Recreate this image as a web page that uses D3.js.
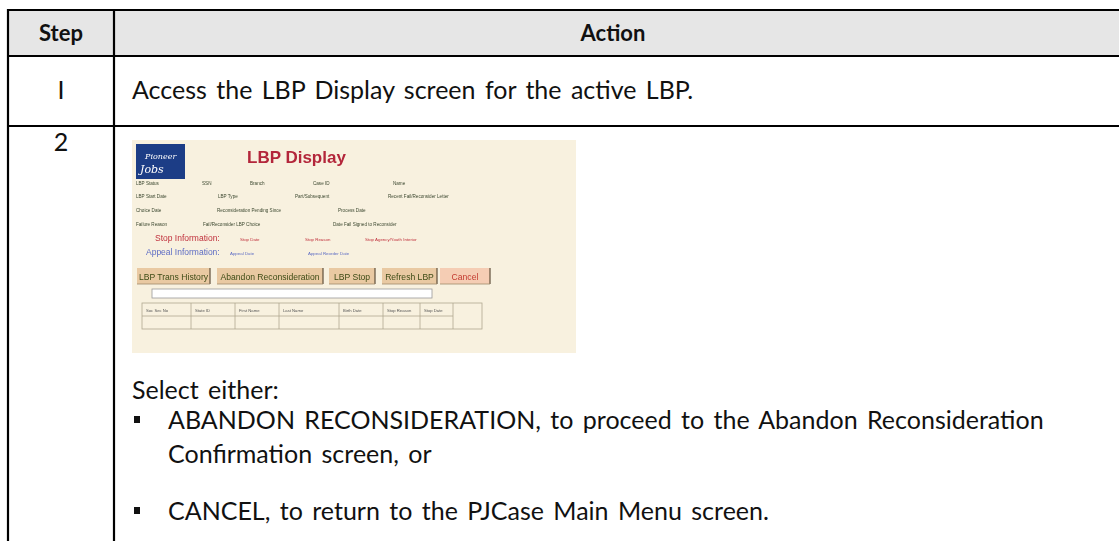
<!DOCTYPE html>
<html><head><meta charset="utf-8">
<script src="https://cdn.jsdelivr.net/npm/d3@7"></script>
<style>
html,body{margin:0;padding:0;background:#fff;}
svg{display:block;}
</style></head>
<body>
<script>
// ---------- data ----------
const headers = ["Step", "Action"];
const stepLabels = ["I", "2"];
const row1Text = "Access the LBP Display screen for the active LBP.";
const selectText = "Select either:";
const bulletLines = [
  ["ABANDON RECONSIDERATION, to proceed to the Abandon Reconsideration", "Confirmation screen, or"],
  ["CANCEL, to return to the PJCase Main Menu screen."]
];
// screenshot mock content
const screenTitle = "LBP Display";
const fieldRows = [
  ["LBP Status", "SSN", "Branch", "Case ID", "Name"],
  ["LBP Start Date", "LBP Type", "Part/Subsequent", "Recent Fail/Reconsider Letter"],
  ["Choice Date", "Reconsideration Pending Since", "Process Date"],
  ["Failure Reason", "Fail/Reconsider LBP Choice", "Date Fail Signed to Reconsider"]
];
const stopLabel = "Stop Information:";
const stopFields = ["Stop Date", "Stop Reason", "Stop Agency/Youth Interior"];
const appealLabel = "Appeal Information:";
const appealFields = ["Appeal Date", "Appeal Reorder Date"];
const buttons = ["LBP Trans History", "Abandon Reconsideration", "LBP Stop", "Refresh LBP", "Cancel"];
const gridCols = ["Soc Sec No", "State ID", "First Name", "Last Name", "Birth Date", "Stop Reason", "Stop Date"];

// ---------- layout ----------
const W = 1119, H = 541;
const FONT = "Lato, 'Open Sans', sans-serif";
const BODY = 25;
const svg = d3.select("body").append("svg").attr("width", W).attr("height", H);

const colEdges = [8, 114, 1121];
const rowEdges = [10, 56, 126, 600];

svg.append("rect").attr("x", colEdges[0]).attr("y", rowEdges[0])
  .attr("width", colEdges[2]-colEdges[0]).attr("height", rowEdges[1]-rowEdges[0])
  .attr("fill", "#e6e6e6");

const colCenters = [(colEdges[0]+colEdges[1])/2, 613];
svg.selectAll("text.hdr").data(headers).join("text").attr("class","hdr")
  .attr("x", (d,i)=>colCenters[i]).attr("y", 41)
  .attr("text-anchor","middle").attr("font-family",FONT).attr("font-weight","bold")
  .attr("font-size",22).attr("fill","#111").text(d=>d);

const stepY = [99, 151];
svg.selectAll("text.step").data(stepLabels).join("text").attr("class","step")
  .attr("x", colCenters[0]).attr("y",(d,i)=>stepY[i])
  .attr("text-anchor","middle").attr("font-family",FONT).attr("font-size",BODY)
  .attr("fill","#111").text(d=>d);

const bodyText = (sel)=>sel.attr("font-family",FONT).attr("font-size",BODY)
  .attr("word-spacing",3).attr("fill","#111");

svg.append("text").attr("x",132).attr("y",99).call(bodyText).text(row1Text);
svg.append("text").attr("x",132).attr("y",399).call(bodyText).text(selectText);

const bulletY = [429, 520];
const lineH = 34;
bulletLines.forEach((lines,bi)=>{
  svg.append("rect").attr("x",134).attr("y",bulletY[bi]-13).attr("width",6).attr("height",7).attr("fill","#111");
  svg.selectAll(null).data(lines).join("text")
    .attr("x",168).attr("y",(d,i)=>bulletY[bi]+i*lineH)
    .call(bodyText).text(d=>d);
});

const lines = [
  [colEdges[0], rowEdges[0], colEdges[2], rowEdges[0]],
  [colEdges[0], rowEdges[1], colEdges[2], rowEdges[1]],
  [colEdges[0], rowEdges[2], colEdges[2], rowEdges[2]],
  [colEdges[0], rowEdges[0]-1, colEdges[0], H+5],
  [colEdges[1], rowEdges[0]-1, colEdges[1], H+5]
];
svg.selectAll("line.grid").data(lines).join("line").attr("class","grid")
  .attr("x1",d=>d[0]).attr("y1",d=>d[1]).attr("x2",d=>d[2]).attr("y2",d=>d[3])
  .attr("stroke","#000").attr("stroke-width",2.2);

// ---------- screenshot mock ----------
const defs = svg.append("defs");
defs.append("filter").attr("id","blur").append("feGaussianBlur").attr("stdDeviation",0.4);
const sc = svg.append("g").attr("transform","translate(132,140)").attr("filter","url(#blur)");
const SANS = "'Liberation Sans',Arial,sans-serif";
sc.append("rect").attr("width",444).attr("height",213).attr("fill","#f8f1df");
sc.append("rect").attr("x",4).attr("y",4).attr("width",49).attr("height",35).attr("fill","#1e3e86");
sc.append("text").attr("x",13).attr("y",19).attr("font-family","'DejaVu Serif',serif").attr("font-style","italic")
  .attr("font-size",8).attr("fill","#fff").text("Pioneer");
sc.append("text").attr("x",8).attr("y",33).attr("font-family","'DejaVu Serif',serif").attr("font-style","italic")
  .attr("font-size",11).attr("fill","#fff").text("Jobs");
sc.append("text").attr("x",115).attr("y",23).attr("font-family",SANS)
  .attr("font-weight","bold").attr("font-size",17).attr("fill","#b3263a").text(screenTitle);

const fieldX = [[4,70,118,181,261],[4,86,163,256],[4,85,206],[4,71,201]];
const fieldY = [45, 58, 72, 86];
fieldRows.forEach((row,ri)=>{
  sc.selectAll(null).data(row).join("text")
    .attr("x",(d,i)=>fieldX[ri][i]).attr("y",fieldY[ri])
    .attr("font-family",SANS).attr("font-size",4.6)
    .attr("fill","#3c4830").text(d=>d);
});
sc.append("text").attr("x",23).attr("y",101).attr("font-family",SANS)
  .attr("font-size",8.5).attr("fill","#c0303c").text(stopLabel);
const stopX = [108,173,233];
sc.selectAll(null).data(stopFields).join("text").attr("x",(d,i)=>stopX[i]).attr("y",101)
  .attr("font-family",SANS).attr("font-size",4.4).attr("fill","#c0303c").text(d=>d);
sc.append("text").attr("x",14).attr("y",115).attr("font-family",SANS)
  .attr("font-size",8.5).attr("fill","#5d6cc4").text(appealLabel);
const appealX = [98,176];
sc.selectAll(null).data(appealFields).join("text").attr("x",(d,i)=>appealX[i]).attr("y",115)
  .attr("font-family",SANS).attr("font-size",4.4).attr("fill","#5d6cc4").text(d=>d);

const btnX = [5, 85, 197, 250, 308];
const btnW = [73, 106, 46, 55, 50];
const btn = sc.selectAll("g.btn").data(buttons).join("g").attr("class","btn")
  .attr("transform",(d,i)=>`translate(${btnX[i]},128)`);
btn.append("rect").attr("width",(d,i)=>btnW[i]).attr("height",16)
  .attr("fill",(d,i)=>i===4?"#f5cdb4":"#e9c9a2");
btn.append("line").attr("x1",(d,i)=>btnW[i]).attr("x2",(d,i)=>btnW[i]).attr("y1",0).attr("y2",16)
  .attr("stroke","#6a5a44").attr("stroke-width",1.3);
btn.append("line").attr("x1",0).attr("x2",(d,i)=>btnW[i]).attr("y1",16).attr("y2",16)
  .attr("stroke","#a08a6a").attr("stroke-width",0.8);
btn.append("text").attr("x",(d,i)=>btnW[i]/2).attr("y",11.5).attr("text-anchor","middle")
  .attr("font-family",SANS).attr("font-size",8.6)
  .attr("fill",(d,i)=>i===4?"#c33a30":"#3c4a14").text(d=>d);

sc.append("rect").attr("x",20).attr("y",149).attr("width",280).attr("height",9)
  .attr("fill","#fff").attr("stroke","#999").attr("stroke-width",0.8);

const gx = [10, 59, 103, 147, 207, 251, 288, 321];
const gTop = 163, gMid = 176, gBot = 189;
sc.append("rect").attr("x",10).attr("y",gTop).attr("width",340).attr("height",gBot-gTop)
  .attr("fill","none").attr("stroke","#b0a890").attr("stroke-width",0.8);
sc.append("line").attr("x1",10).attr("x2",321).attr("y1",gMid).attr("y2",gMid).attr("stroke","#b0a890").attr("stroke-width",0.8);
sc.selectAll("line.gc").data(gx.slice(1)).join("line").attr("class","gc")
  .attr("x1",d=>d).attr("x2",d=>d).attr("y1",gTop).attr("y2",gBot).attr("stroke","#b0a890").attr("stroke-width",0.8);
sc.selectAll("text.gh").data(gridCols).join("text").attr("class","gh")
  .attr("x",(d,i)=>gx[i]+4).attr("y",gTop+9)
  .attr("font-family",SANS).attr("font-size",4.2).attr("fill","#555").text(d=>d);
</script>
</body></html>
